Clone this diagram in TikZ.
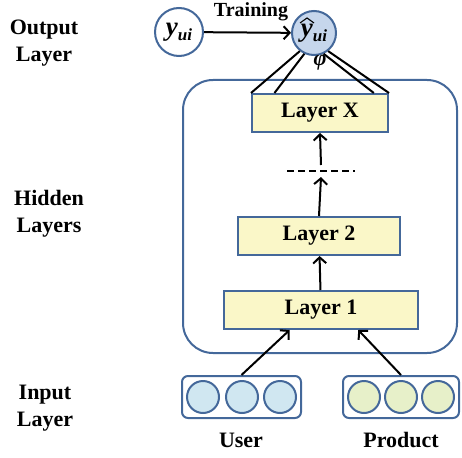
\documentclass[tikz,border=0pt]{standalone}
\usepackage{fontspec}
\setmainfont{Liberation Serif}
\usetikzlibrary{positioning,fit,calc,arrows.meta}
\definecolor{edgeblue}{HTML}{44689A}
\definecolor{layerfill}{HTML}{FAF7C8}
\definecolor{userfill}{HTML}{D0E7F1}
\definecolor{prodfill}{HTML}{E7F0C9}
\definecolor{predfill}{HTML}{C6D6EC}
\newcommand{\bigy}{{\fontsize{27}{27}\selectfont\textit{y}}}
\newcommand{\subui}{\raisebox{-5pt}{\fontsize{17}{17}\selectfont\textit{ui}}}

\begin{document}
\begin{tikzpicture}[x=1pt,y=-1pt,line width=2pt,
    every node/.style={font=\fontsize{22}{27}\selectfont\bfseries},
    layer/.style={draw=edgeblue,fill=layerfill,minimum height=38pt,inner sep=0pt},
    unit/.style={draw=edgeblue,circle,minimum size=32pt,inner sep=0pt},
    group/.style={draw=edgeblue,rounded corners=6pt,inner sep=4pt},
    side/.style={align=center},
    arr/.style={-{Straight Barb[length=6pt,width=13pt]}}]
    \useasboundingbox (0,0) rectangle (462,457);
    \draw[edgeblue,rounded corners=30pt] (183,80) rectangle (457,353);
    \node[side] (outlbl) at (44,43) {Output\\Layer};
    \node[side] (hidlbl) at (49,214) {Hidden\\Layers};
    \node[side] (inlbl) at (45,408) {Input\\Layer};
    \node[draw=edgeblue,circle,fill=white,minimum size=48pt,inner sep=0pt] (yui) at (179,32)
        {\bigy\subui};
    \node[draw=edgeblue,circle,fill=predfill,minimum size=44pt,inner sep=0pt] (yhat) at (314,33)
        {\bigy\subui};
    \draw[line width=1.1pt] ($(yhat.center)+(-14,-10)$) -- ($(yhat.center)+(-7,-15)$) -- ($(yhat.center)+(0,-10)$);
    \node[font=\fontsize{20}{24}\selectfont\bfseries] (train) at (251,12) {Training};
    \node (phi) at (320,63) {\textit{φ}};
    \node[layer,minimum width=136pt] (layerX) at (320,113) {Layer X};
    \node[minimum width=66pt,minimum height=10pt,inner sep=0pt] (dots) at (321,171) {};
    \node[layer,minimum width=162pt] (layer2) at (319,236) {Layer 2};
    \node[layer,minimum width=194pt] (layer1) at (321,310) {Layer 1};
    \node[unit,fill=userfill] (u1) at (203,397) {};
    \node[unit,fill=userfill] (u2) at (242,397) {};
    \node[unit,fill=userfill] (u3) at (280,397) {};
    \node[unit,fill=prodfill] (p1) at (364,397) {};
    \node[unit,fill=prodfill] (p2) at (401,397) {};
    \node[unit,fill=prodfill] (p3) at (438,397) {};
    \node[group,fit=(u1) (u3)] (user) {};
    \node[group,fit=(p1) (p3)] (product) {};
    \node (userlbl) at (241,440) {User};
    \node (prodlbl) at (401,440) {Product};
    \draw[arr] (yui) -- (yhat);
    \draw (yhat.232) -- (layerX.north west);
    \draw (yhat.245) -- ($(layerX.north west)!0.17!(layerX.north east)$);
    \draw (yhat.295) -- ($(layerX.north west)!0.89!(layerX.north east)$);
    \draw (yhat.308) -- (layerX.north east);
    \draw[dashed,dash pattern=on 7pt off 4pt] (dots.west) -- (dots.east);
    \draw[arr] (dots.north) -- (layerX.south);
    \draw[arr] (layer2.north) -- (dots.south);
    \draw[arr] (layer1) -- (layer2);
    \draw[arr] (user.north) -- ($(layer1.south west)!0.34!(layer1.south east)$);
    \draw[arr] (product.north) -- ($(layer1.south west)!0.69!(layer1.south east)$);
\end{tikzpicture}
\end{document}
